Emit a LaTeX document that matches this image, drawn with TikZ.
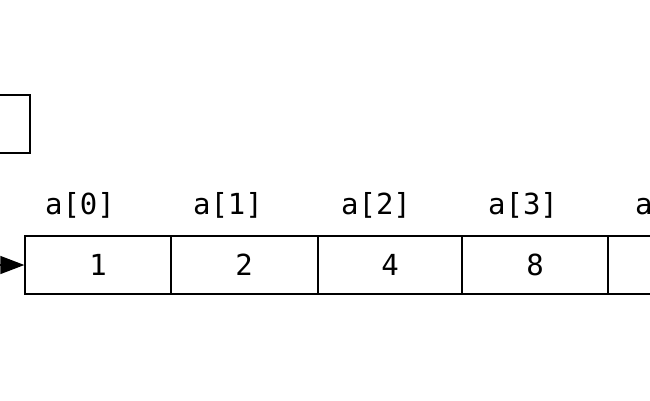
\documentclass[tikz,border=0pt]{standalone}
\usepackage{fontspec}
\setmonofont{DejaVu Sans Mono}
\usetikzlibrary{arrows.meta}
\begin{document}
\begin{tikzpicture}[x=1pt,y=-1pt,
  cell/.style={draw,line width=1.3pt,minimum height=58pt,inner sep=0pt,font=\fontsize{29}{32}\selectfont\ttfamily},
  lbl/.style={font=\fontsize{29}{32}\selectfont\ttfamily}]
\useasboundingbox (0,0) rectangle (650,400);
\clip (0,0) rectangle (650,400);
\node[draw,line width=1.3pt,minimum width=60pt,minimum height=58pt] (p) at (0,124) {};
\node[cell,minimum width=146pt] (c0) at (98,265) {1};
\node[cell,minimum width=147pt] (c1) at (244,265) {2};
\node[cell,minimum width=144pt] (c2) at (390,265) {4};
\node[cell,minimum width=146pt] (c3) at (535,265) {8};
\node[cell,minimum width=146pt] (c4) at (681,265) {};
\node[lbl] (l0) at (80,205) {a[0]};
\node[lbl] (l1) at (228,205) {a[1]};
\node[lbl] (l2) at (376,205) {a[2]};
\node[lbl] (l3) at (523,205) {a[3]};
\node[lbl] (l4) at (670,205) {a[4]};
\coordinate (s) at (-20,265);
\draw[line width=1.3pt,-{Triangle[length=24pt,width=18pt]}] (s) -- (c0.west);
\end{tikzpicture}
\end{document}
